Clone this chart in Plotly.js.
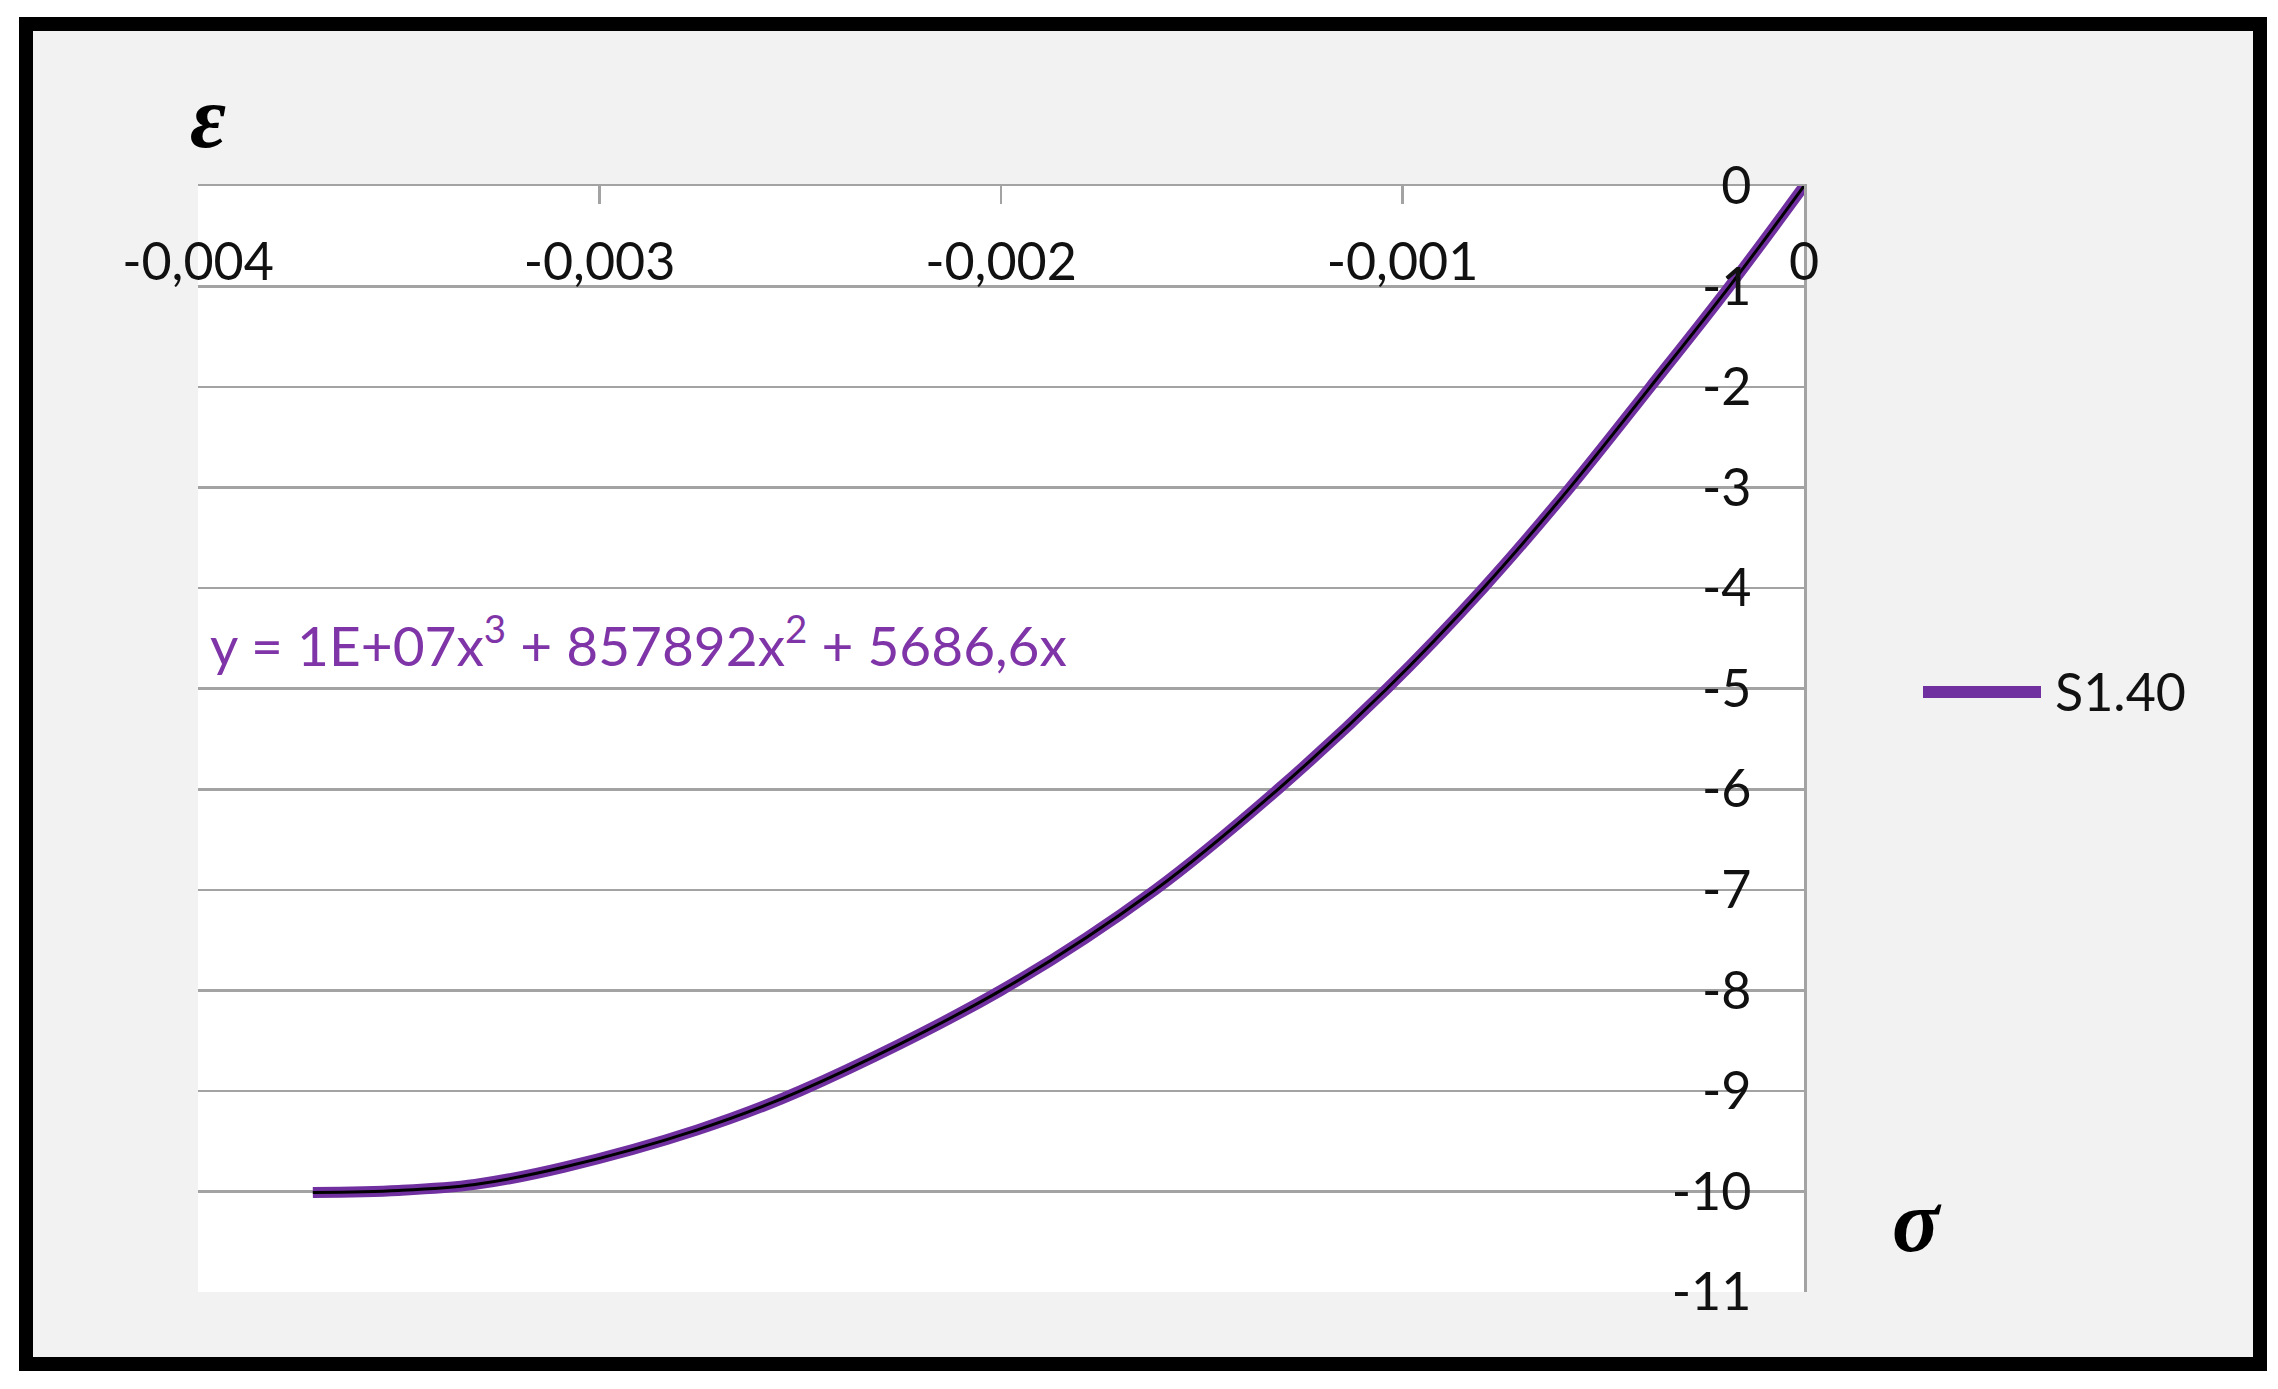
<!DOCTYPE html>
<html>
<head>
<meta charset="utf-8">
<script src="https://cdn.plot.ly/plotly-3.0.1.min.js"></script>
<style>
  html, body { margin: 0; padding: 0; background: #ffffff; }
  #chart { width: 2278px; height: 1389px; }
</style>
</head>
<body>
<div id="chart"></div>
<script>
// ---- data ----
const seriesName = 'S1.40';
const sigma   = [-0.003714, -0.0035, -0.00331, -0.00309, -0.002758, -0.0025, -0.0020, -0.001616, -0.00131, -0.001039, -0.000799, -0.000583, -0.000383, -0.000186, 0];
const epsilon = [-10.01, -9.99, -9.93, -9.76, -9.39, -9.0, -8.0, -7.0, -6.0, -5.0, -4.0, -3.0, -2.0, -1.0, 0];
const xTickVals = [-0.004, -0.003, -0.002, -0.001, 0];
const xTickText = ['-0,004', '-0,003', '-0,002', '-0,001', '0'];
const yTickVals = [0, -1, -2, -3, -4, -5, -6, -7, -8, -9, -10, -11];
const yTickText = ['0', '-1', '-2', '-3', '-4', '-5', '-6', '-7', '-8', '-9', '-10', '-11'];
const equationText = 'y = 1E+07x<sup>3</sup> + 857892x<sup>2</sup> + 5686,6x';
const yAxisLabel = 'ε';
const xAxisLabel = 'σ';

// ---- layout geometry (pixels) ----
const W = 2278, H = 1389;
const L = 198, R = 1804, T = 186, B = 1292;
const pw = R - L, ph = B - T;
const px = v => (v - L) / pw;
const py = v => (B - v) / ph;

const FONT = 'Lato, "Open Sans", "Noto Sans", sans-serif';
const purple = '#7030A0';
const gridCol = '#a3a3a3';

const traces = [
  {
    x: sigma, y: epsilon, name: seriesName, type: 'scatter', mode: 'lines',
    line: { color: purple, width: 11, shape: 'spline', smoothing: 1 },
    showlegend: false, hoverinfo: 'skip'
  },
  {
    x: sigma, y: epsilon, name: 'trend', type: 'scatter', mode: 'lines',
    line: { color: '#000000', width: 3, shape: 'spline', smoothing: 1 },
    showlegend: false, hoverinfo: 'skip'
  }
];

const layout = {
  width: W, height: H,
  margin: { l: L, r: W - R, t: T, b: H - B, pad: 0 },
  paper_bgcolor: '#ffffff',
  plot_bgcolor: 'rgba(0,0,0,0)',
  showlegend: false,
  font: { family: FONT, size: 52, color: '#111111' },
  xaxis: {
    range: [-0.004, 0], side: 'top',
    tickmode: 'array', tickvals: xTickVals, ticktext: xTickText,
    ticks: 'inside', ticklen: 18, tickwidth: 2.5, tickcolor: gridCol,
    ticklabelposition: 'inside', ticklabelstandoff: 47, ticklabeloverflow: 'allow',
    showline: true, linecolor: gridCol, linewidth: 2.5,
    showgrid: false, zeroline: false,
    tickfont: { family: FONT, size: 52, color: '#111111' }
  },
  yaxis: {
    range: [-11, 0], side: 'right',
    tickmode: 'array', tickvals: yTickVals, ticktext: yTickText,
    ticks: '', ticklabelposition: 'inside', ticklabelstandoff: 60, ticklabeloverflow: 'allow',
    showline: true, linecolor: gridCol, linewidth: 2.5,
    showgrid: true, gridcolor: gridCol, gridwidth: 2.5, zeroline: false,
    tickfont: { family: FONT, size: 52, color: '#111111' }
  },
  shapes: [
    { type: 'rect', xref: 'paper', yref: 'paper', layer: 'below',
      x0: px(26), x1: px(2260), y0: py(1364), y1: py(24),
      line: { color: '#000000', width: 14 }, fillcolor: '#f2f2f2' },
    { type: 'rect', xref: 'paper', yref: 'paper', layer: 'below',
      x0: 0, x1: 1, y0: 0, y1: 1,
      line: { width: 0 }, fillcolor: '#ffffff' },
    { type: 'line', xref: 'paper', yref: 'paper',
      x0: px(1923), x1: px(2041), y0: py(692), y1: py(692),
      line: { color: purple, width: 12 } }
  ],
  annotations: [
    { xref: 'paper', yref: 'paper', x: px(208), y: py(641), xanchor: 'left', yanchor: 'middle',
      text: equationText, showarrow: false,
      font: { family: FONT, size: 55, color: '#7F35A8' } },
    { xref: 'paper', yref: 'paper', x: px(2053), y: py(691), xanchor: 'left', yanchor: 'middle',
      text: seriesName, showarrow: false,
      font: { family: FONT, size: 52, color: '#111111' } },
    { xref: 'paper', yref: 'paper', x: px(208), y: py(118), xanchor: 'center', yanchor: 'middle',
      text: '<b><i>' + yAxisLabel + '</i></b>', showarrow: false,
      font: { family: '"Liberation Serif", "DejaVu Serif", serif', size: 88, color: '#000000' } },
    { xref: 'paper', yref: 'paper', x: px(1917), y: py(1221), xanchor: 'center', yanchor: 'middle',
      text: '<b><i>' + xAxisLabel + '</i></b>', showarrow: false,
      font: { family: '"Liberation Serif", "DejaVu Serif", serif', size: 88, color: '#000000' } }
  ]
};

Plotly.newPlot('chart', traces, layout, { staticPlot: true, displayModeBar: false });
</script>
</body>
</html>
